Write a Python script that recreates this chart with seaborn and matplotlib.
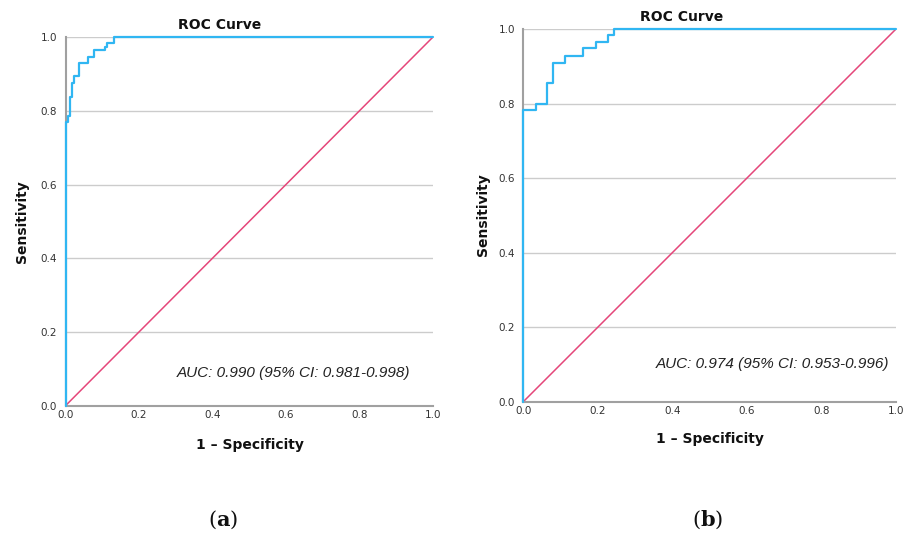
import matplotlib
matplotlib.use("Agg")
import matplotlib.pyplot as plt
import seaborn as sns
import pandas as pd

# ---- data ----
fpr_a = [0.0, 0.0, 0.006, 0.011, 0.017, 0.023, 0.036, 0.062, 0.078, 0.107, 0.112, 0.132, 1.0]
tpr_a = [0.0, 0.770, 0.787, 0.838, 0.875, 0.894, 0.931, 0.947, 0.965, 0.973, 0.984, 1.0, 1.0]

fpr_b = [0.0, 0.0, 0.033, 0.064, 0.080, 0.112, 0.161, 0.195, 0.226, 0.243, 1.0]
tpr_b = [0.0, 0.782, 0.800, 0.856, 0.910, 0.928, 0.948, 0.966, 0.984, 1.0, 1.0]

ref_x = [0.0, 1.0]
ref_y = [0.0, 1.0]

ticks = [0.0, 0.2, 0.4, 0.6, 0.8, 1.0]
tick_labels = ["0.0", "0.2", "0.4", "0.6", "0.8", "1.0"]

auc_a = "AUC: 0.990 (95% CI: 0.981-0.998)"
auc_b = "AUC: 0.974 (95% CI: 0.953-0.996)"

sns.set_style("white")
plt.rcParams["font.family"] = ["DejaVu Sans"]
plt.rcParams["mathtext.fontset"] = "dejavuserif"

W, H = 905, 537
fig = plt.figure(figsize=(W / 100, H / 100), dpi=100)
fig.patch.set_facecolor("white")

BLUE = "#30B6F2"
RED = "#E5467A"
GRID = "#cccccc"
SPINE = "#a0a0a0"


def px_rect(l, t, r, b):
    return [l / W, 1 - b / H, (r - l) / W, (b - t) / H]


def panel(rect, fpr, tpr, auc_text, auc_pos, title_xy, xlabel_xy, ylabel_xy, tag, tag_xy):
    ax = fig.add_axes(px_rect(*rect))
    df = pd.DataFrame({"fpr": fpr, "tpr": tpr})
    ref = pd.DataFrame({"x": ref_x, "y": ref_y})
    for y in ticks[1:]:
        ax.axhline(y, color=GRID, lw=1.0, zorder=0)
    sns.lineplot(data=ref, x="x", y="y", ax=ax, color=RED, lw=1.1,
                 estimator=None, sort=False, zorder=2)
    sns.lineplot(data=df, x="fpr", y="tpr", ax=ax, color=BLUE, lw=1.6,
                 estimator=None, sort=False, drawstyle="steps-post", zorder=4,
                 clip_on=False)
    ax.set_xlim(0, 1)
    ax.set_ylim(0, 1)
    ax.set_xticks(ticks)
    ax.set_yticks(ticks)
    ax.set_xticklabels(tick_labels)
    ax.set_yticklabels(tick_labels)
    ax.tick_params(axis="both", length=0, labelsize=7.5, colors="#333333")
    ax.tick_params(axis="y", pad=6)
    ax.tick_params(axis="x", pad=3)
    ax.set_xlabel("")
    ax.set_ylabel("")
    for s in ["top", "right"]:
        ax.spines[s].set_visible(False)
    for s in ["left", "bottom"]:
        ax.spines[s].set_color(SPINE)
        ax.spines[s].set_linewidth(1.5)
        ax.spines[s].set_zorder(3)
    ax.text(auc_pos[0], auc_pos[1], auc_text, ha="right", va="center",
            fontsize=11, style="italic", family="Liberation Sans", color="#222222")
    fig.text(title_xy[0] / W, 1 - title_xy[1] / H, "ROC Curve", ha="center", va="center",
             fontsize=10, fontweight="bold", color="#111111")
    fig.text(xlabel_xy[0] / W, 1 - xlabel_xy[1] / H, "1 \u2013 Specificity", ha="center",
             va="center", fontsize=10, fontweight="bold", color="#111111")
    fig.text(ylabel_xy[0] / W, 1 - ylabel_xy[1] / H, "Sensitivity", ha="center",
             va="center", rotation=90, fontsize=10, fontweight="bold", color="#111111")
    fig.text(tag_xy[0] / W, 1 - tag_xy[1] / H, "(" + r"$\mathbf{" + tag + "}$" + ")",
             ha="center", va="center", fontsize=15, family="DejaVu Serif", color="#111111")
    return ax


panel((65.5, 37.3, 432.7, 405.7), fpr_a, tpr_a, auc_a, (0.94, 0.09),
      (220, 25), (250, 445), (22, 222), "a", (223, 520))
panel((523.3, 29, 896, 401.7), fpr_b, tpr_b, auc_b, (0.982, 0.10),
      (682, 17), (710, 439), (483, 215), "b", (708, 520))

fig.savefig("out.png", dpi=100, facecolor="white")
